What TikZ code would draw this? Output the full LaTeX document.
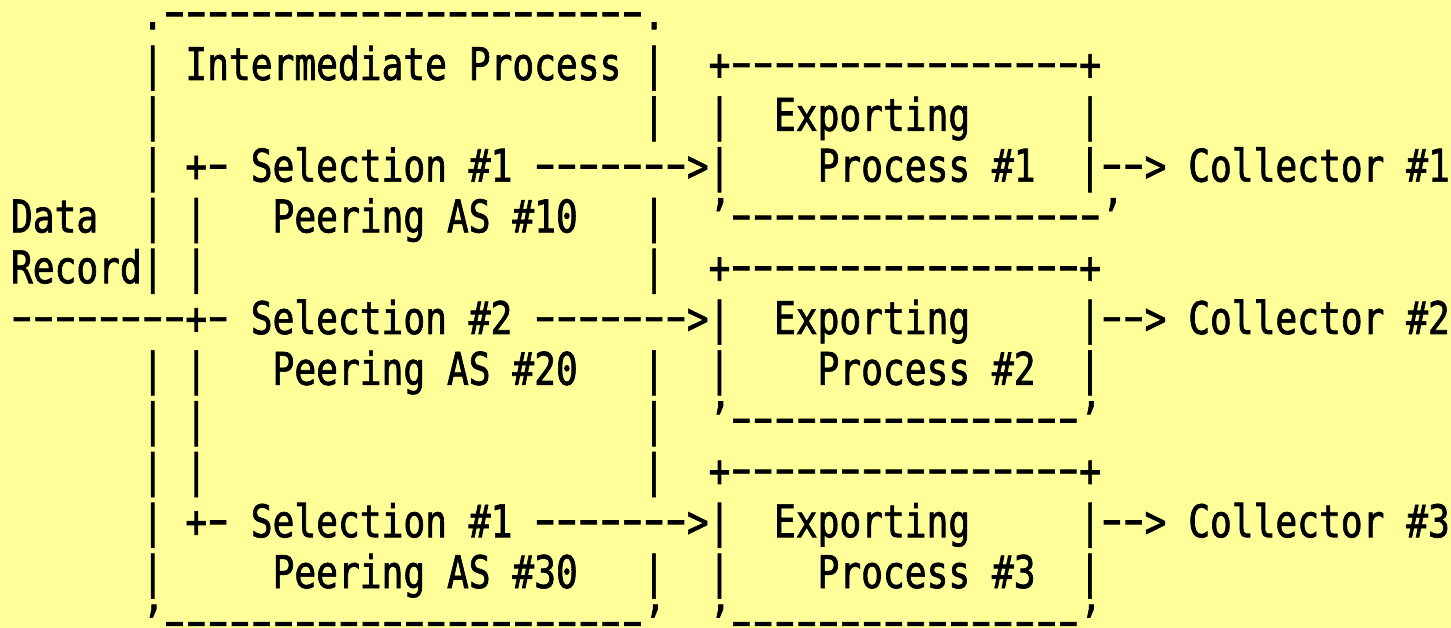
\documentclass[tikz,border=0pt]{standalone}
\usepackage{fontspec}
% monospaced face, narrowed so one cell is 21.8pt wide at 45pt
\newfontfamily\asciifont[Ligatures=TeXOff,FakeStretch=0.8047,FakeBold=1.5]{DejaVu Sans Mono}
% proportional face, widened so its hyphen spans one cell at 45pt
\newfontfamily\dashfont[Ligatures=TeXOff,FakeStretch=1.34,FakeBold=1.5]{DejaVu Sans}
\definecolor{paper}{RGB}{255,255,153}
% one hyphen per cell, and a run of them
\newcommand\cellhyphen{\makebox[21.8pt][c]{\dashfont\fontsize{45pt}{50pt}\selectfont\raisebox{2.5pt}{-}}}
\newcommand\dashes[1]{\foreach\k in {1,...,#1}{\cellhyphen}}
\tikzset{
  asciirow/.style={anchor=base west,inner sep=0pt,outer sep=0pt,
    font=\asciifont\fontsize{45pt}{50pt}\selectfont\frenchspacing}
}
\begin{document}
\begin{tikzpicture}[x=1pt,y=1pt]
\useasboundingbox (0,0) rectangle (1451,-628);
\fill[paper] (0,0) rectangle (1451,-628);
% character grid: x = column, y = text line (baselines)
\begin{scope}[shift={(11pt,-29.2pt)},x=21.8pt,y=-50.8pt]
\node[asciirow] (r0)  at (6,0)  {.\dashes{22}.};
\node[asciirow] (r1)  at (6,1)  {|~Intermediate~Process~|~~+\dashes{16}+};
\node[asciirow] (r2)  at (6,2)  {|~~~~~~~~~~~~~~~~~~~~~~|~~|~~Exporting~~~~~|};
\node[asciirow] (r3)  at (6,3)  {|~+\dashes{1}~Selection~\#1~\dashes{7}>|~~~~Process~\#1~~|\dashes{2}>~Collector~\#1};
\node[asciirow] (r4)  at (0,4)  {Data~~|~|~~~Peering~AS~\#10~~~|~~’\dashes{17}’};
\node[asciirow] (r5)  at (0,5)  {Record|~|~~~~~~~~~~~~~~~~~~~~|~~+\dashes{16}+};
\node[asciirow] (r6)  at (0,6)  {\dashes{8}+\dashes{1}~Selection~\#2~\dashes{7}>|~~Exporting~~~~~|\dashes{2}>~Collector~\#2};
\node[asciirow] (r7)  at (6,7)  {|~|~~~Peering~AS~\#20~~~|~~|~~~~Process~\#2~~|};
\node[asciirow] (r8)  at (6,8)  {|~|~~~~~~~~~~~~~~~~~~~~|~~’\dashes{16}’};
\node[asciirow] (r9)  at (6,9)  {|~|~~~~~~~~~~~~~~~~~~~~|~~+\dashes{16}+};
\node[asciirow] (r10) at (6,10) {|~+\dashes{1}~Selection~\#1~\dashes{7}>|~~Exporting~~~~~|\dashes{2}>~Collector~\#3};
\node[asciirow] (r11) at (6,11) {|~~~~~Peering~AS~\#30~~~|~~|~~~~Process~\#3~~|};
\node[asciirow] (r12) at (6,12) {’\dashes{22}’~~’\dashes{16}’};
\end{scope}
\end{tikzpicture}
\end{document}
